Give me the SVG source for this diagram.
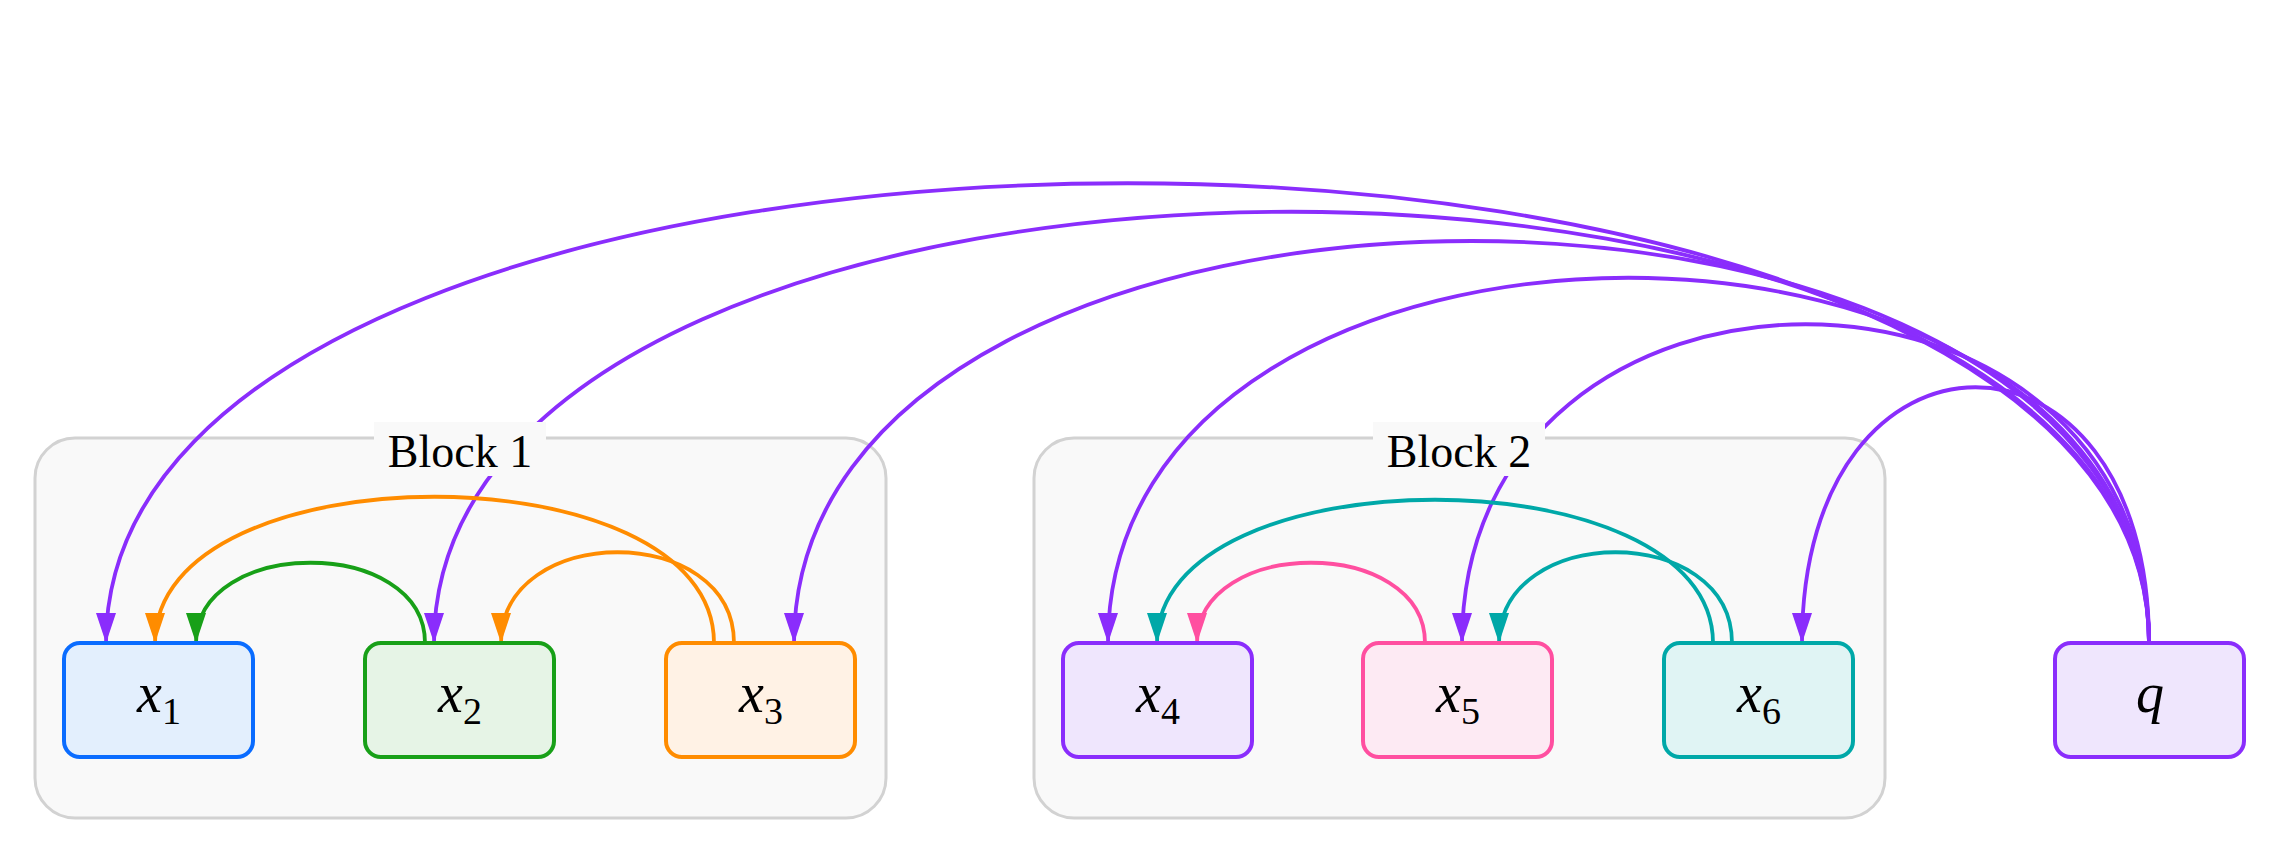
<svg xmlns="http://www.w3.org/2000/svg" width="2280" height="850" viewBox="0 0 2280 850">
<style>
.blk{fill:#f9f9f9;stroke:#d2d2d2;stroke-width:3}
.bl{font-family:"Liberation Serif",serif;font-size:46px;fill:#000;text-anchor:middle}
.nl{font-family:"Liberation Serif",serif;font-style:italic;font-size:56px;fill:#000;text-anchor:middle}
.sub{font-style:normal;font-size:38px}
.e{fill:none;stroke-width:3.8}
</style>
<defs>
<marker id="ap" markerUnits="userSpaceOnUse" markerWidth="32" markerHeight="20" refX="30" refY="10" orient="auto"><path d="M0,0 L30,10 L0,20 z" fill="#8a2dfc"/></marker>
<marker id="ao" markerUnits="userSpaceOnUse" markerWidth="32" markerHeight="20" refX="30" refY="10" orient="auto"><path d="M0,0 L30,10 L0,20 z" fill="#ff8c00"/></marker>
<marker id="ag" markerUnits="userSpaceOnUse" markerWidth="32" markerHeight="20" refX="30" refY="10" orient="auto"><path d="M0,0 L30,10 L0,20 z" fill="#18a018"/></marker>
<marker id="at" markerUnits="userSpaceOnUse" markerWidth="32" markerHeight="20" refX="30" refY="10" orient="auto"><path d="M0,0 L30,10 L0,20 z" fill="#00a8a8"/></marker>
<marker id="ak" markerUnits="userSpaceOnUse" markerWidth="32" markerHeight="20" refX="30" refY="10" orient="auto"><path d="M0,0 L30,10 L0,20 z" fill="#ff4fa0"/></marker>
</defs>
<rect width="2280" height="850" fill="#fff"/>
<g id="block1"><rect class="blk" x="35" y="438" width="851" height="380" rx="40"/></g>
<g id="block2"><rect class="blk" x="1034" y="438" width="851" height="380" rx="40"/></g>
<g id="connectors">
<path class="e" stroke="#8a2dfc" marker-end="url(#ap)" d="M2149,643 C2149,30 106,30 106,643"/>
<path class="e" stroke="#8a2dfc" marker-end="url(#ap)" d="M2149,643 C2149,68 434,68 434,643"/>
<path class="e" stroke="#8a2dfc" marker-end="url(#ap)" d="M2149,643 C2149,107 794,107 794,643"/>
<path class="e" stroke="#8a2dfc" marker-end="url(#ap)" d="M2149,643 C2149,156 1108,156 1108,643"/>
<path class="e" stroke="#8a2dfc" marker-end="url(#ap)" d="M2149,643 C2149,218 1462,218 1462,643"/>
<path class="e" stroke="#8a2dfc" marker-end="url(#ap)" d="M2149,643 C2149,302 1802,302 1802,643"/>
<path class="e" stroke="#ff8c00" marker-end="url(#ao)" d="M714,643 C714,448 155,448 155,643"/>
<path class="e" stroke="#ff8c00" marker-end="url(#ao)" d="M734,643 C734,522 501,522 501,643"/>
<path class="e" stroke="#18a018" marker-end="url(#ag)" d="M425,643 C425,536 196,536 196,643"/>
<path class="e" stroke="#00a8a8" marker-end="url(#at)" d="M1713,643 C1713,452 1157,452 1157,643"/>
<path class="e" stroke="#00a8a8" marker-end="url(#at)" d="M1732,643 C1732,522 1499,522 1499,643"/>
<path class="e" stroke="#ff4fa0" marker-end="url(#ak)" d="M1425,643 C1425,536 1197,536 1197,643"/>
</g>
<g id="label1"><rect x="374" y="422" width="172" height="54" fill="#f9f9f9"/><text class="bl" x="460" y="467">Block 1</text></g>
<g id="label2"><rect x="1373" y="422" width="172" height="54" fill="#f9f9f9"/><text class="bl" x="1459" y="467">Block 2</text></g>
<g id="x1"><rect x="64" y="643" width="189" height="114" rx="16" fill="#e3effd" stroke="#0a6cff" stroke-width="4"/><text class="nl" x="159" y="712">x<tspan class="sub" dy="12">1</tspan></text></g>
<g id="x2"><rect x="365" y="643" width="189" height="114" rx="16" fill="#e6f4e6" stroke="#18a018" stroke-width="4"/><text class="nl" x="460" y="712">x<tspan class="sub" dy="12">2</tspan></text></g>
<g id="x3"><rect x="666" y="643" width="189" height="114" rx="16" fill="#fff2e5" stroke="#ff8c00" stroke-width="4"/><text class="nl" x="761" y="712">x<tspan class="sub" dy="12">3</tspan></text></g>
<g id="x4"><rect x="1063" y="643" width="189" height="114" rx="16" fill="#efe6fd" stroke="#8a2dfc" stroke-width="4"/><text class="nl" x="1158" y="712">x<tspan class="sub" dy="12">4</tspan></text></g>
<g id="x5"><rect x="1363" y="643" width="189" height="114" rx="16" fill="#fdeaf3" stroke="#ff4fa0" stroke-width="4"/><text class="nl" x="1458" y="712">x<tspan class="sub" dy="12">5</tspan></text></g>
<g id="x6"><rect x="1664" y="643" width="189" height="114" rx="16" fill="#e0f4f4" stroke="#00a8a8" stroke-width="4"/><text class="nl" x="1759" y="712">x<tspan class="sub" dy="12">6</tspan></text></g>
<g id="q"><rect x="2055" y="643" width="189" height="114" rx="16" fill="#efe6fd" stroke="#8a2dfc" stroke-width="4"/><text class="nl" x="2150" y="712">q</text></g>
</svg>
